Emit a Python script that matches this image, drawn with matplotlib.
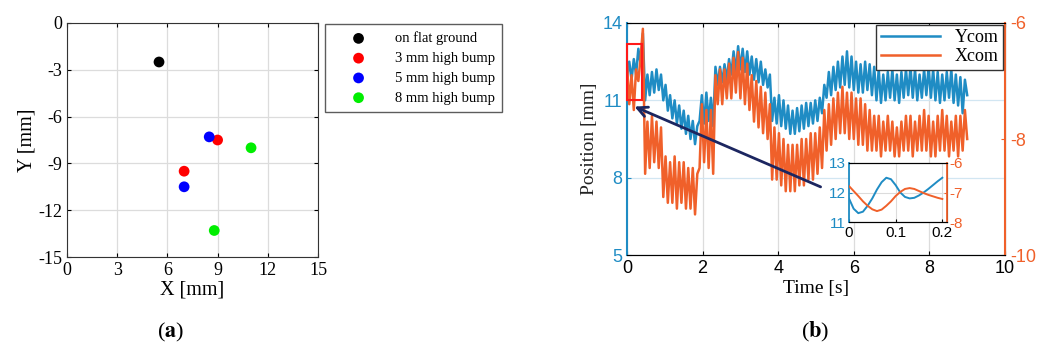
import numpy as np
import matplotlib.pyplot as plt
from matplotlib.patches import Rectangle

plt.rcParams['mathtext.fontset'] = 'stix'
plt.rcParams['axes.unicode_minus'] = False

# (a) centre of pressure positions
cats = ['on flat ground', '3 mm high bump', '5 mm high bump', '8 mm high bump']
cat_colors = ['#000000', '#ff0000', '#0000ff', '#00ee00']
px = [[5.5], [9.0, 7.0], [8.5, 7.0], [11.0, 8.8]]
py = [[-2.5], [-7.5, -9.5], [-7.3, -10.5], [-8.0, -13.3]]

# (b) time series, peaks/troughs sampled every 0.06 s
dt = 0.06
ycom = [11.9, 12.5, 11.8, 12.6, 12.0, 13.0, 12.4, 13.6, 11.0, 12.0,
        11.2, 12.1, 11.3, 12.2, 11.4, 12.0, 11.0, 11.6, 10.6, 11.2,
        10.3, 11.0, 10.1, 10.8, 9.9, 10.6, 9.7, 10.4, 9.5, 10.2,
        9.3, 10.0, 10.2, 11.2, 10.1, 11.3, 10.2, 11.1, 10.0, 12.3,
        11.6, 12.3, 11.7, 12.4, 11.8, 12.6, 12.0, 12.9, 12.1, 13.1,
        12.2, 13.0, 12.1, 12.9, 12.0, 12.7, 11.8, 12.6, 11.7, 12.5,
        11.6, 12.2, 11.5, 12.0, 10.2, 11.1, 10.1, 11.2, 10.0, 11.0,
        9.9, 10.8, 9.7, 10.6, 9.7, 10.7, 9.8, 10.8, 9.9, 10.9,
        10.0, 10.9, 10.1, 11.0, 10.2, 11.1, 10.5, 11.6, 11.1, 12.1,
        11.2, 12.3, 11.4, 12.5, 11.5, 12.7, 11.6, 12.9, 11.5, 12.7,
        11.4, 12.5, 11.3, 12.4, 11.3, 12.5, 11.4, 12.4, 11.2, 12.3,
        11.0, 12.2, 10.9, 12.0, 11.0, 12.1, 11.1, 12.2, 11.0, 12.0,
        10.9, 12.1, 11.1, 12.2, 11.2, 12.3, 11.1, 12.2, 11.0, 12.0,
        11.1, 12.2, 11.2, 12.3, 11.1, 12.2, 11.0, 12.1, 10.9, 12.0,
        11.0, 12.1, 11.1, 12.2, 10.9, 12.0, 10.8, 11.9, 10.5, 11.8,
        11.2]
xcom = [-6.7, -7.4, -6.9, -7.5, -6.8, -7.0, -6.6, -6.1, -8.6, -7.7,
        -8.5, -7.6, -8.4, -7.7, -8.5, -7.8, -9.0, -8.3, -9.1, -8.4,
        -9.1, -8.3, -9.2, -8.4, -9.1, -8.4, -9.2, -8.5, -9.2, -8.5,
        -9.3, -8.6, -8.5, -7.4, -8.4, -7.5, -8.5, -7.5, -8.6, -6.9,
        -7.4, -6.8, -7.4, -6.8, -7.3, -6.7, -7.3, -6.6, -7.2, -6.5,
        -7.3, -6.6, -7.4, -6.7, -7.5, -6.9, -7.7, -7.0, -7.8, -7.1,
        -7.9, -7.2, -8.0, -7.4, -8.7, -7.8, -8.7, -7.9, -8.8, -8.0,
        -8.9, -8.1, -8.9, -8.1, -8.9, -8.1, -8.8, -8.0, -8.8, -8.0,
        -8.7, -7.9, -8.7, -7.9, -8.6, -7.8, -8.5, -7.5, -8.2, -7.4,
        -8.1, -7.3, -8.0, -7.2, -7.9, -7.1, -7.9, -7.2, -8.0, -7.2,
        -8.0, -7.3, -8.1, -7.3, -8.1, -7.4, -8.2, -7.5, -8.2, -7.6,
        -8.2, -7.6, -8.3, -7.7, -8.2, -7.6, -8.2, -7.7, -8.3, -7.8,
        -8.3, -7.7, -8.2, -7.6, -8.2, -7.6, -8.3, -7.7, -8.2, -7.6,
        -8.2, -7.5, -8.2, -7.6, -8.3, -7.7, -8.3, -7.6, -8.2, -7.5,
        -8.2, -7.6, -8.3, -7.7, -8.2, -7.6, -8.3, -7.6, -8.2, -7.5,
        -8.0]
t = np.arange(len(ycom)) * dt

# zoomed inset, 0 - 0.2 s every 0.01 s
t_in = np.arange(21) * 0.01
ycom_in = [11.8, 11.45, 11.3, 11.35, 11.55, 11.8, 12.1, 12.35, 12.5, 12.45, 12.25,
           12.0, 11.85, 11.8, 11.82, 11.9, 12.0, 12.12, 12.25, 12.38, 12.5]
xcom_in = [-6.78, -6.95, -7.12, -7.3, -7.45, -7.57, -7.63, -7.58, -7.45, -7.3, -7.12,
           -6.98, -6.88, -6.85, -6.88, -6.95, -7.02, -7.08, -7.13, -7.18, -7.22]

blue = '#1f8cc4'
orange = '#f0602a'
serif = 'Liberation Serif'
sans = 'Liberation Sans'

fig = plt.figure(figsize=(10.45, 3.5), dpi=100)

# ---------- (a)
ax = fig.add_axes([0.0641, 0.2657, 0.2402, 0.6686])
for i in range(len(cats)):
    ax.scatter(px[i], py[i], s=60, c=cat_colors[i], label=cats[i], zorder=3, edgecolors='none')
ax.set_xlim(0, 15)
ax.set_ylim(-15, 0)
ax.set_xticks(range(0, 16, 3))
ax.set_yticks(range(-15, 1, 3))
ax.grid(True, color='#dcdcdc', lw=0.9)
ax.tick_params(direction='in', top=True, right=True, labelsize=13, length=3)
for lab in ax.get_xticklabels() + ax.get_yticklabels():
    lab.set_family(serif)
for s in ax.spines.values():
    s.set_color('#333333')
ax.set_xlabel('X [mm]', family=serif, fontsize=14.5, labelpad=1)
ax.set_ylabel('Y [mm]', family=serif, fontsize=14.5, labelpad=1)
leg = ax.legend(loc='upper left', bbox_to_anchor=(0.311, 0.931), bbox_transform=fig.transFigure,
                prop={'family': serif, 'size': 10.5}, fancybox=False, edgecolor='#333333',
                handletextpad=0.7, borderpad=0.5, labelspacing=0.45, handlelength=3.6,
                borderaxespad=0)
leg.get_frame().set_linewidth(1.0)

# ---------- (b)
bx = fig.add_axes([0.6000, 0.2714, 0.3617, 0.6629])
bx.plot(t, ycom, color=blue, lw=1.8, label='Ycom')
bx.set_xlim(0, 10)
bx.set_ylim(5, 14)
bx.set_xticks(range(0, 11, 2))
bx.set_yticks([5, 8, 11, 14])
bx.grid(True, axis='x', color='#dcdcdc', lw=0.9)
bx.grid(True, axis='y', color='#d2e6f2', lw=0.9)
bx.tick_params(axis='x', direction='in', top=True, labelsize=13, length=3)
bx.tick_params(axis='y', direction='in', colors=blue, labelsize=13, length=3)
bx.spines['left'].set_color(blue)
bx.spines['left'].set_linewidth(1.5)
bx.spines['top'].set_color('#333333')
bx.spines['bottom'].set_color('#333333')
for lab in bx.get_xticklabels() + bx.get_yticklabels():
    lab.set_family(sans)
bx.set_xlabel('Time [s]', family=serif, fontsize=14, labelpad=2)
bx.set_ylabel('Position [mm]', family=serif, fontsize=14, color='#222222', labelpad=3)

bx2 = bx.twinx()
bx2.plot(t, xcom, color=orange, lw=1.8, label='Xcom')
bx2.set_ylim(-10, -6)
bx2.set_yticks([-10, -8, -6])
bx2.tick_params(axis='y', direction='in', colors=orange, labelsize=13, length=3)
bx2.spines['right'].set_color(orange)
bx2.spines['right'].set_linewidth(1.5)
bx2.spines['left'].set_visible(False)
for lab in bx2.get_yticklabels():
    lab.set_family(sans)

# zoom box and arrow, placed in the left (Ycom) axis coordinates
bx2.add_patch(Rectangle((0.0, 11.0), 0.40, 2.2, transform=bx.transData, fill=False,
                        edgecolor='#ff1a1a', lw=1.5, zorder=5, clip_on=False))
bx2.annotate('', xy=(0.13, 10.8), xytext=(5.19, 7.6), xycoords=bx.transData,
             textcoords=bx.transData,
             arrowprops=dict(arrowstyle='->', color='#1c2660', lw=2.0, mutation_scale=18))

h1, l1 = bx.get_legend_handles_labels()
h2, l2 = bx2.get_legend_handles_labels()
lg = bx2.legend(h1 + h2, l1 + l2, loc='upper right', prop={'family': serif, 'size': 13},
                fancybox=False, edgecolor='#333333', handlelength=3.3, borderpad=0.25,
                labelspacing=0.1, borderaxespad=0.1)
lg.get_frame().set_linewidth(1.0)
lg.get_frame().set_alpha(1)

# inset
ix = fig.add_axes([0.8124, 0.3657, 0.0938, 0.1686])
ix.plot(t_in, ycom_in, color=blue, lw=1.4)
ix.set_xlim(0, 0.21)
ix.set_ylim(11, 13)
ix.set_xticks([0, 0.1, 0.2])
ix.set_xticklabels(['0', '0.1', '0.2'])
ix.set_yticks([11, 12, 13])
ix.grid(True, color='#dcdcdc', lw=0.8)
ix.tick_params(axis='x', direction='in', labelsize=11, length=2, pad=3)
ix.tick_params(axis='y', direction='in', colors=blue, labelsize=11, length=2, pad=2)
ix.spines['left'].set_color(blue)
ix.spines['left'].set_linewidth(1.3)
for lab in ix.get_xticklabels() + ix.get_yticklabels():
    lab.set_family(sans)
ix2 = ix.twinx()
ix2.plot(t_in, xcom_in, color=orange, lw=1.4)
ix2.set_ylim(-8, -6)
ix2.set_yticks([-8, -7, -6])
ix2.tick_params(axis='y', direction='in', colors=orange, labelsize=11, length=2, pad=2)
ix2.spines['right'].set_color(orange)
ix2.spines['right'].set_linewidth(1.3)
ix2.spines['left'].set_visible(False)
for lab in ix2.get_yticklabels():
    lab.set_family(sans)

fig.text(0.163, 0.035, r'($\mathbf{a}$)', ha='center', fontsize=16, family=serif)
fig.text(0.780, 0.035, r'($\mathbf{b}$)', ha='center', fontsize=16, family=serif)

fig.savefig('out.png', dpi=100)
